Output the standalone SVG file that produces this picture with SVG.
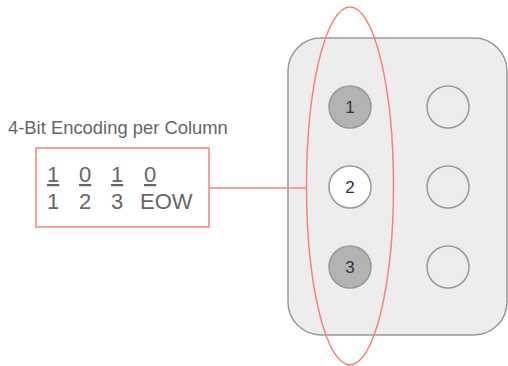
<svg xmlns="http://www.w3.org/2000/svg" width="508" height="366" viewBox="0 0 508 366">
<style>
.t{font-family:"Liberation Sans",Arial,sans-serif;fill:#666}
.big{font-size:22px}
.dot{stroke:#999;stroke-width:1.5}
.on{fill:#b3b3b3}
.off{fill:#ffffff}
.empty{fill:#ededed}
.num{font-family:"Liberation Sans",Arial,sans-serif;font-size:17px;fill:#333;text-anchor:middle}
.red{fill:none;stroke:#f4837a;stroke-width:1.5}
</style>
<rect width="508" height="366" fill="#ffffff"/>
<g id="cell">
<rect x="288" y="38" width="219" height="297" rx="33" ry="33" fill="#ededed" stroke="#999" stroke-width="1.5"/>
</g>
<g id="dot1"><circle cx="350" cy="107" r="21" class="dot on"/><text x="350" y="113" class="num">1</text></g>
<g id="dot2"><circle cx="350" cy="187" r="21" class="dot off"/><text x="350" y="193" class="num">2</text></g>
<g id="dot3"><circle cx="350" cy="267" r="21" class="dot on"/><text x="350" y="273" class="num">3</text></g>
<g id="dot4"><circle cx="448" cy="107" r="21" class="dot empty"/></g>
<g id="dot5"><circle cx="448" cy="187" r="21" class="dot empty"/></g>
<g id="dot6"><circle cx="448" cy="267" r="21" class="dot empty"/></g>
<g id="column"><ellipse cx="350" cy="186" rx="43.5" ry="179" class="red"/></g>
<g id="title"><text x="8" y="134" class="t" font-size="18.4">4-Bit Encoding per Column</text></g>
<g id="encoding">
<rect x="36" y="148" width="173" height="79" class="red"/>
<text class="t big" y="182" text-decoration="underline"><tspan x="47">1</tspan><tspan x="79">0</tspan><tspan x="111">1</tspan><tspan x="144">0</tspan></text>
<text class="t big" y="209"><tspan x="47">1</tspan><tspan x="79">2</tspan><tspan x="111">3</tspan><tspan x="140">EOW</tspan></text>
</g>
<g id="connectors"><line x1="209" y1="188" x2="306.5" y2="188" class="red"/></g>
</svg>
